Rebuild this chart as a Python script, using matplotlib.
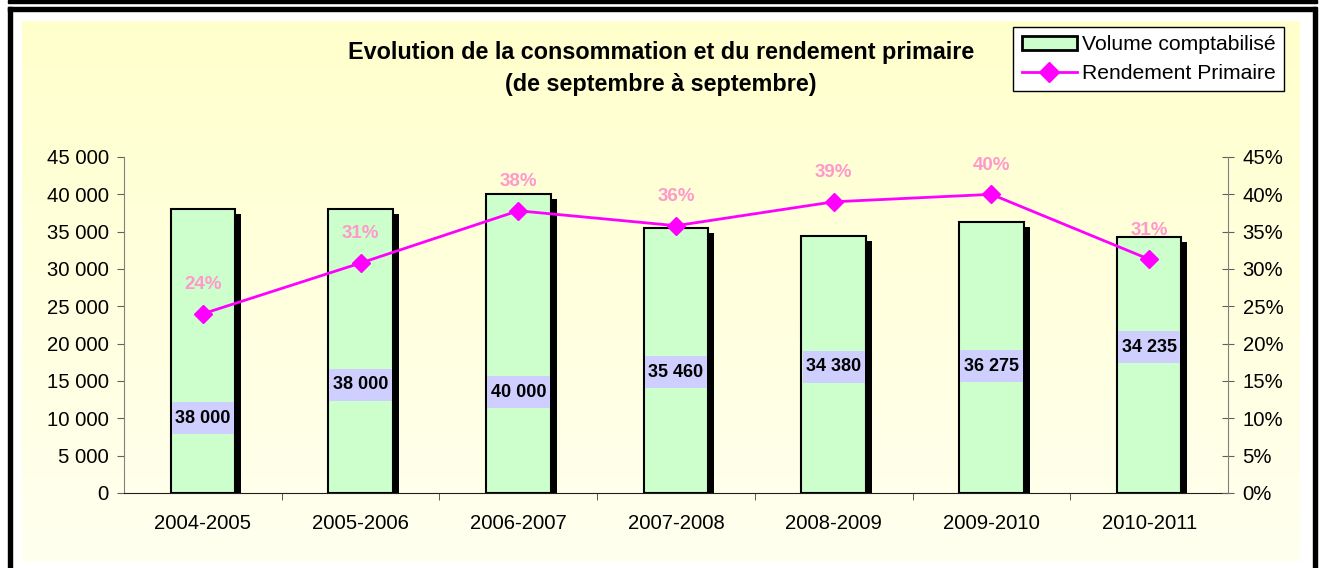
import numpy as np
import matplotlib
matplotlib.use("Agg")
import matplotlib.pyplot as plt
from matplotlib.patches import Rectangle, Patch
from matplotlib.lines import Line2D
from matplotlib.path import Path
from matplotlib.ticker import FuncFormatter, MultipleLocator, FixedLocator
import matplotlib.transforms as mtransforms

plt.rcParams['font.family'] = ['Liberation Sans', 'DejaVu Sans']

# données
saisons = ["2004-2005", "2005-2006", "2006-2007", "2007-2008", "2008-2009", "2009-2010", "2010-2011"]
volume = [38000, 38000, 40000, 35460, 34380, 36275, 34235]
rendement = [0.24, 0.308, 0.378, 0.358, 0.39, 0.40, 0.313]
# hauteur des étiquettes de volume (en unités de l'axe)
pos_etiquettes = [10000, 14500, 13500, 16200, 16900, 17000, 19500]

W, H = 1323, 568
fig = plt.figure(figsize=(W / 100, H / 100), dpi=100)

# cadre et fond dégradé
bg = fig.add_axes([0, 0, 1, 1])
bg.set_xlim(0, W)
bg.set_ylim(H, 0)
bg.axis("off")
grad = np.linspace(0, 1, 256).reshape(-1, 1)
jaune = np.array([1.0, 1.0, 0.80])
clair = np.array([1.0, 1.0, 0.94])
img = jaune[None, None, :] * (1 - grad[:, :, None]) + clair[None, None, :] * grad[:, :, None]
bg.imshow(img, extent=(22, 1300, 562, 21), aspect="auto", zorder=1)
bg.add_patch(Rectangle((8, 0), 1309, 3, color="black", zorder=2))
bg.add_patch(Rectangle((8, 7), 1308, 3.5, color="black", zorder=2))
bg.add_patch(Rectangle((8, 7), 3.5, H, color="black", zorder=2))
bg.add_patch(Rectangle((1313, 7), 3.5, H, color="black", zorder=2))

# titre
fig.text(661 / W, 1 - 52 / H, "Evolution de la consommation et du rendement primaire",
         ha="center", va="center", fontsize=16.8, fontweight="bold")
fig.text(661 / W, 1 - 85 / H, "(de septembre à septembre)",
         ha="center", va="center", fontsize=16.8, fontweight="bold")

ax = fig.add_axes([124 / W, 1 - 493 / H, 1104 / W, 336 / H])
ax.set_facecolor("none")
x = np.arange(len(saisons))

# ombre des barres
ombre = ax.transData + mtransforms.ScaledTranslation(6 / 100, -5 / 100, fig.dpi_scale_trans)
ax.bar(x, volume, width=0.41, color="black", transform=ombre, zorder=2)
ax.bar(x, volume, width=0.41, color="#CCFFCC", edgecolor="black", linewidth=1.5, zorder=3)


def boite(x0, y0, width, height, mutation_size):
    # rectangle avec marge horizontale étroite et marge verticale large
    px, py = 0.2 * mutation_size, 0.42 * mutation_size
    xa, xb, ya, yb = x0 - px, x0 + width + px, y0 - py, y0 + height + py
    return Path([(xa, ya), (xb, ya), (xb, yb), (xa, yb), (xa, ya)], closed=True)


for xi, v, yl in zip(x, volume, pos_etiquettes):
    ax.text(xi, yl, f"{v:,}".replace(",", " "), ha="center", va="center",
            fontsize=13, fontweight="bold", zorder=5,
            bbox=dict(facecolor="#CFCFFF", edgecolor="none", boxstyle=boite))

ax.set_xlim(-0.5, len(saisons) - 0.5)
ax.set_ylim(0, 45000)
ax.yaxis.set_major_locator(MultipleLocator(5000))
ax.yaxis.set_major_formatter(FuncFormatter(lambda v, p: f"{int(v):,}".replace(",", " ")))
ax.set_xticks(x)
ax.set_xticklabels(saisons)
ax.xaxis.set_minor_locator(FixedLocator(np.arange(0.5, len(saisons) - 1, 1)))
ax.tick_params(axis="x", which="major", length=0, pad=15, labelsize=14.6)
ax.tick_params(axis="x", which="minor", length=5, direction="out", color="#404040")
ax.tick_params(axis="y", length=5, direction="out", color="#606060", labelsize=14.6, pad=6)
ax.spines["top"].set_visible(False)
ax.spines["right"].set_visible(False)
ax.spines["left"].set_color("#808080")
ax.spines["bottom"].set_color("#202020")

ax2 = ax.twinx()
ax2.set_ylim(0, 0.45)
ax2.yaxis.set_major_locator(MultipleLocator(0.05))
ax2.yaxis.set_major_formatter(FuncFormatter(lambda v, p: f"{round(v * 100)}%"))
ax2.tick_params(axis="y", length=9, direction="inout", color="#606060", labelsize=14.6, pad=6)
for s in ["top", "left", "bottom"]:
    ax2.spines[s].set_visible(False)
ax2.spines["right"].set_color("#808080")

ax2.plot(x, rendement, color="#FF00FF", linewidth=2, marker="D", markersize=9, zorder=4)
for xi, r in zip(x, rendement):
    ax2.annotate(f"{round(r * 100)}%", (xi, r), xytext=(0, 21), textcoords="offset points",
                 ha="center", va="center", color="#FF99CC", fontsize=13.5, fontweight="bold")

# légende
poignees = [Patch(facecolor="#CCFFCC", edgecolor="black", linewidth=2),
            Line2D([], [], color="#FF00FF", linewidth=2, marker="D", markersize=10)]
leg = fig.legend(poignees, ["Volume comptabilisé", "Rendement Primaire"],
                 loc="upper right", bbox_to_anchor=(1284 / W, 1 - 27 / H),
                 fontsize=15.2, fancybox=False, framealpha=1, edgecolor="black",
                 borderpad=0.4, labelspacing=0.45, handlelength=2.6, handleheight=0.6,
                 handletextpad=0.25, borderaxespad=0)
leg.get_frame().set_linewidth(1)

fig.savefig("out.png", dpi=100)
